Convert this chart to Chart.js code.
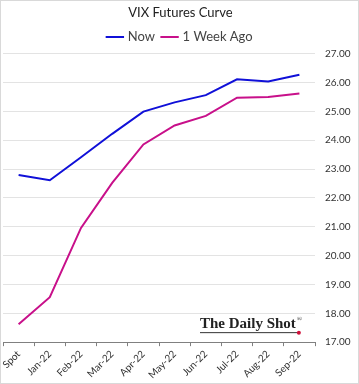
<!DOCTYPE html>
<html>
<head>
<meta charset="utf-8">
<script src="https://cdn.jsdelivr.net/npm/chart.js@4.4.0/dist/chart.umd.min.js"></script>
<style>
  html, body { margin: 0; padding: 0; background: #fff; }
  #wrap { position: relative; width: 357px; height: 382px; border: 1px solid #d9d9d9; }
</style>
</head>
<body>
<div id="wrap"><canvas id="vixChart"></canvas></div>
<script>
const labels = ['Spot', 'Jan-22', 'Feb-22', 'Mar-22', 'Apr-22', 'May-22', 'Jun-22', 'Jul-22', 'Aug-22', 'Sep-22'];
const nowValues = [22.79, 22.61, 23.41, 24.22, 24.99, 25.31, 25.56, 26.11, 26.03, 26.27];
const weekAgoValues = [17.62, 18.56, 20.96, 22.52, 23.85, 24.51, 24.84, 25.47, 25.50, 25.62];
const yMin = 17;
const yMax = 27;

const font = "Lato, 'Open Sans', sans-serif";

// watermark in the lower right corner
const watermark = {
    id: 'watermark',
    afterDraw(chart) {
        const ctx = chart.ctx;
        const area = chart.chartArea;
        const x = area.right - 115;
        const y = area.bottom - 14;
        ctx.save();
        ctx.fillStyle = '#222';
        ctx.font = "bold 15px 'Liberation Serif', 'DejaVu Serif', serif";
        ctx.textBaseline = 'alphabetic';
        ctx.fillText('The Daily Shot', x, y);
        const w = ctx.measureText('The Daily Shot').width;
        ctx.font = "7px 'Liberation Serif', serif";
        ctx.fillText('®', x + w + 1, y - 7);
        ctx.strokeStyle = '#333';
        ctx.lineWidth = 1;
        ctx.beginPath();
        ctx.moveTo(x, y + 4.5);
        ctx.lineTo(x + w + 2, y + 4.5);
        ctx.stroke();
        ctx.fillStyle = '#d0103a';
        ctx.beginPath();
        ctx.arc(x + w + 3, y + 4.5, 2, 0, Math.PI * 2);
        ctx.fill();
        ctx.restore();
    }
};

function createVixChart() {
    const ctx = document.getElementById('vixChart').getContext('2d');

    new Chart(ctx, {
        type: 'line',
        data: {
            labels: labels,
            datasets: [{
                label: 'Now',
                data: nowValues,
                borderColor: '#1010d8',
                backgroundColor: '#1010d8',
                borderWidth: 2,
                pointRadius: 0,
                tension: 0
            }, {
                label: '1 Week Ago',
                data: weekAgoValues,
                borderColor: '#c8108a',
                backgroundColor: '#c8108a',
                borderWidth: 2,
                pointRadius: 0,
                tension: 0
            }]
        },
        options: {
            responsive: true,
            maintainAspectRatio: false,
            animation: false,
            layout: {
                padding: { left: 2, right: 0, top: 2, bottom: 0 }
            },
            plugins: {
                title: {
                    display: true,
                    text: 'VIX Futures Curve',
                    color: '#222',
                    font: { family: font, size: 13, weight: 'normal' },
                    padding: { top: 2, bottom: 2 }
                },
                legend: {
                    position: 'top',
                    labels: {
                        usePointStyle: true,
                        pointStyle: 'line',
                        boxWidth: 16,
                        padding: 8,
                        color: '#444',
                        font: { family: font, size: 13 }
                    }
                },
                tooltip: { enabled: false }
            },
            scales: {
                x: {
                    offset: true,
                    grid: {
                        offset: true,
                        drawOnChartArea: false,
                        drawTicks: true,
                        tickLength: 4,
                        color: '#808080'
                    },
                    border: { color: '#808080' },
                    ticks: {
                        color: '#333',
                        font: { family: font, size: 10 },
                        minRotation: 45,
                        maxRotation: 45,
                        padding: 2
                    }
                },
                y: {
                    position: 'right',
                    min: yMin,
                    max: yMax,
                    afterFit: function(scale) { scale.width = 43; },
                    grid: {
                        color: '#e3e3e3',
                        drawTicks: false
                    },
                    border: { display: false },
                    ticks: {
                        stepSize: 1,
                        padding: 10,
                        color: '#333',
                        font: { family: font, size: 10 },
                        callback: function(v) { return v.toFixed(2); }
                    }
                }
            }
        },
        plugins: [watermark]
    });
}

createVixChart();
</script>
</body>
</html>
